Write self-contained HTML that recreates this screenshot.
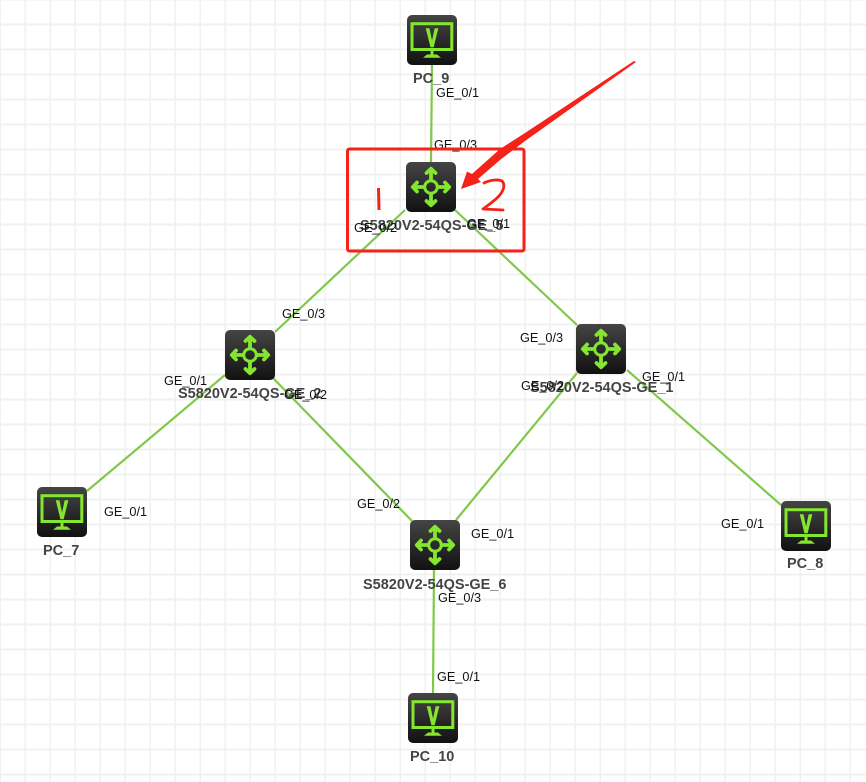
<!DOCTYPE html>
<html>
<head>
<meta charset="utf-8">
<style>
html,body{margin:0;padding:0;background:#fff}
svg{display:block}
.l{font:12.7px "Liberation Sans",Arial,sans-serif;fill:#111}
.n{font:bold 14.5px "Liberation Sans",Arial,sans-serif;fill:#444}
.v{font:bold 25px "Liberation Sans",Arial,sans-serif;fill:#84e62e;stroke:#84e62e;stroke-width:1.5}
</style>
</head>
<body>
<svg width="866" height="782" viewBox="0 0 866 782" xmlns="http://www.w3.org/2000/svg">
<defs>
<linearGradient id="g" x1="0" y1="0" x2="0" y2="1"><stop offset="0" stop-color="#454545"/><stop offset="1" stop-color="#111"/></linearGradient>
<pattern id="grid" x="-0.5" y="-1.5" width="25" height="25" patternUnits="userSpaceOnUse">
<rect x="0" y="0" width="25" height="25" fill="#fff"/>
<rect x="0" y="0" width="1.6" height="25" fill="#f1f1f1"/>
<rect x="0" y="0" width="25" height="2" fill="#f1f1f1"/>
</pattern>
<g id="sw">
<rect width="50" height="50" rx="5" fill="url(#g)"/>
<g fill="none" stroke="#84e62e" stroke-width="3.8" stroke-linecap="round" stroke-linejoin="round">
<circle cx="25" cy="25" r="6.3" stroke-width="3"/>
<path d="M25 18V8M20.5 11L25 6.8L29.5 11M25 32V42M20.5 39L25 43.2L29.5 39M18 25H8M11 20.5L6.8 25L11 29.5M32 25H42M39 20.5L43.2 25L39 29.5"/>
</g>
</g>
<g id="pc">
<rect width="50" height="50" rx="5" fill="url(#g)"/>
<rect x="5" y="8.7" width="39.8" height="25.8" fill="none" stroke="#84e62e" stroke-width="3"/>
<rect x="23.5" y="36" width="3" height="3.5" fill="#84e62e"/>
<path d="M20 39.5H30L34 42.7H16Z" fill="#84e62e"/>
</g>
</defs>

<rect x="0" y="0" width="866" height="782" fill="url(#grid)"/>

<g stroke="#7ec94a" stroke-width="2.2" fill="none">
<line x1="432" y1="65" x2="431" y2="162"/>
<line x1="405" y1="210" x2="275" y2="332"/>
<line x1="455" y1="210" x2="577" y2="325"/>
<line x1="225" y1="375" x2="87" y2="491"/>
<line x1="273" y1="378" x2="412" y2="521"/>
<line x1="577" y1="373" x2="456" y2="520"/>
<line x1="627" y1="370" x2="781" y2="505"/>
<line x1="434" y1="570" x2="433" y2="693"/>
</g>

<use href="#pc" x="407" y="15"/>
<use href="#sw" x="406" y="162"/>
<use href="#sw" x="225" y="330"/>
<use href="#sw" x="576" y="324"/>
<use href="#sw" x="410" y="520"/>
<use href="#pc" x="37" y="487"/>
<use href="#pc" x="781" y="501"/>
<use href="#pc" x="408" y="693"/>

<text class="v" text-anchor="middle" transform="translate(432,46.5) scale(.68,1)">V</text>
<text class="v" text-anchor="middle" transform="translate(62,518.5) scale(.68,1)">V</text>
<text class="v" text-anchor="middle" transform="translate(806,532.5) scale(.68,1)">V</text>
<text class="v" text-anchor="middle" transform="translate(433,724.5) scale(.68,1)">V</text>

<text class="n" x="413" y="83">PC_9</text>
<text class="n" x="360" y="230">S5820V2-54QS-GE_5</text>
<text class="n" x="178" y="398">S5820V2-54QS-GE_2</text>
<text class="n" x="530" y="392">S5820V2-54QS-GE_1</text>
<text class="n" x="363" y="589">S5820V2-54QS-GE_6</text>
<text class="n" x="43" y="555">PC_7</text>
<text class="n" x="787" y="568">PC_8</text>
<text class="n" x="410" y="761">PC_10</text>

<text class="l" x="436" y="97">GE_0/1</text>
<text class="l" x="434" y="149">GE_0/3</text>
<text class="l" x="354" y="232">GE_0/2</text>
<text class="l" x="467" y="228">GE_0/1</text>
<text class="l" x="282" y="318">GE_0/3</text>
<text class="l" x="164" y="385">GE_0/1</text>
<text class="l" x="284" y="399">GE_0/2</text>
<text class="l" x="520" y="342">GE_0/3</text>
<text class="l" x="521" y="390">GE_0/2</text>
<text class="l" x="642" y="381">GE_0/1</text>
<text class="l" x="357" y="508">GE_0/2</text>
<text class="l" x="471" y="538">GE_0/1</text>
<text class="l" x="438" y="602">GE_0/3</text>
<text class="l" x="104" y="516">GE_0/1</text>
<text class="l" x="721" y="528">GE_0/1</text>
<text class="l" x="437" y="681">GE_0/1</text>

<rect x="347.5" y="149" width="176.5" height="102" rx="2" fill="none" stroke="#f5221a" stroke-width="3"/>
<path d="M634 61L636 62L525 141L500 160L478 179L481 182L461 189L467 171.5L472 174L500 149L525 133Z" fill="#f5221a"/>
<path d="M378.5 188L379 210" stroke="#f5221a" stroke-width="3" fill="none"/>
<path d="M484 183C490 180 498 179 502 181C506 185 503 192 498 197C493 202 487 206 483 209L503 210" stroke="#f5221a" stroke-width="2.8" fill="none" stroke-linecap="round" stroke-linejoin="round"/>
</svg>
</body>
</html>
